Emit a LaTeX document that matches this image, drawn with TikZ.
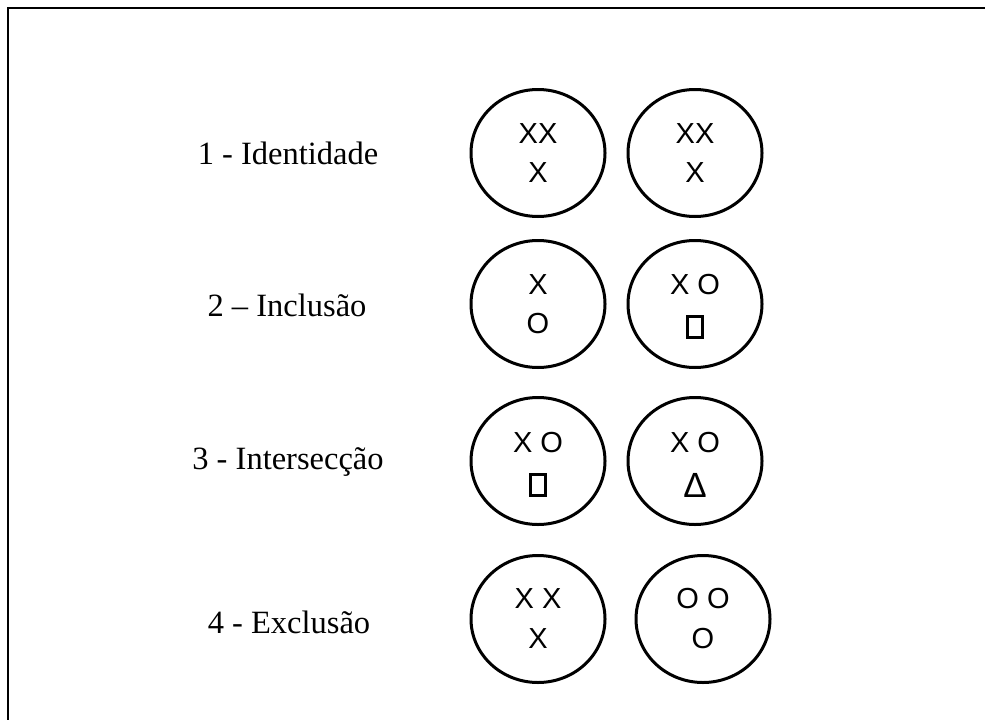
\documentclass[tikz,border=0pt]{standalone}
\usepackage{fontspec}
\setmainfont{Liberation Serif}
\newfontfamily\markfont{Liberation Sans}
\usetikzlibrary{shapes.geometric}

\begin{document}
\begin{tikzpicture}[x=1pt, y=-1pt,
  conj/.style={
    ellipse, draw, line width=3pt,
    minimum width=134pt, minimum height=127pt, inner sep=0pt
  },
  rel/.style={font=\fontsize{32.5}{38}\selectfont, inner sep=0pt},
  elem/.style={font=\markfont\fontsize{29}{34}\selectfont, inner sep=0pt},
  quad/.style={
    rectangle, draw, line width=2.6pt,
    minimum width=15pt, minimum height=21pt, inner sep=0pt
  },
]
\useasboundingbox (0,0) rectangle (985,720);

%% -- Frame (top and left edge only) ------------------------------------------
\draw[line width=2.8pt] (8,720) -- (8,8) -- (985,8);

%% -- Relation names ----------------------------------------------------------
\node[rel] (r1) at (288,153) {1 - Identidade};
\node[rel] (r2) at (287,305) {2 -- Inclusão};
\node[rel] (r3) at (288,462) {3 - Intersecção};
\node[rel] (r4) at (289,622) {4 - Exclusão};

%% -- Sets ----------------------------------------------------------------------
\node[conj] (c1a) at (538,153) {};
\node[conj] (c1b) at (695,153) {};
\node[conj] (c2a) at (538,304) {};
\node[conj] (c2b) at (695,304) {};
\node[conj] (c3a) at (538,461) {};
\node[conj] (c3b) at (695,461) {};
\node[conj] (c4a) at (538,619) {};
\node[conj] (c4b) at (703,619) {};

%% -- Elements ------------------------------------------------------------------
% identidade
\node[elem] (e1a) at ([yshift=19pt]c1a.center) {XX};
\node[elem] (e1a2) at ([yshift=-20pt]c1a.center) {X};
\node[elem] (e1b) at ([yshift=19pt]c1b.center) {XX};
\node[elem] (e1b2) at ([yshift=-20pt]c1b.center) {X};

% inclusao
\node[elem] (e2a) at ([yshift=19pt]c2a.center) {X};
\node[elem] (e2a2) at ([yshift=-20pt]c2a.center) {O};
\node[elem] (e2b) at ([yshift=19pt]c2b.center) {X O};
\node[quad] (e2b2) at ([yshift=-23pt]c2b.center) {};

% interseccao
\node[elem] (e3a) at ([yshift=18pt]c3a.center) {X O};
\node[quad] (e3a2) at ([yshift=-24pt]c3a.center) {};
\node[elem] (e3b) at ([yshift=18pt]c3b.center) {X O};
\node[elem, font=\markfont\fontsize{35}{40}\selectfont] (e3b2)
  at ([yshift=-24pt]c3b.center) {Δ};

% exclusao
\node[elem] (e4a) at ([yshift=20pt]c4a.center) {X X};
\node[elem] (e4a2) at ([yshift=-20pt]c4a.center) {X};
\node[elem] (e4b) at ([yshift=20pt]c4b.center) {O O};
\node[elem] (e4b2) at ([yshift=-20pt]c4b.center) {O};

\end{tikzpicture}
\end{document}
